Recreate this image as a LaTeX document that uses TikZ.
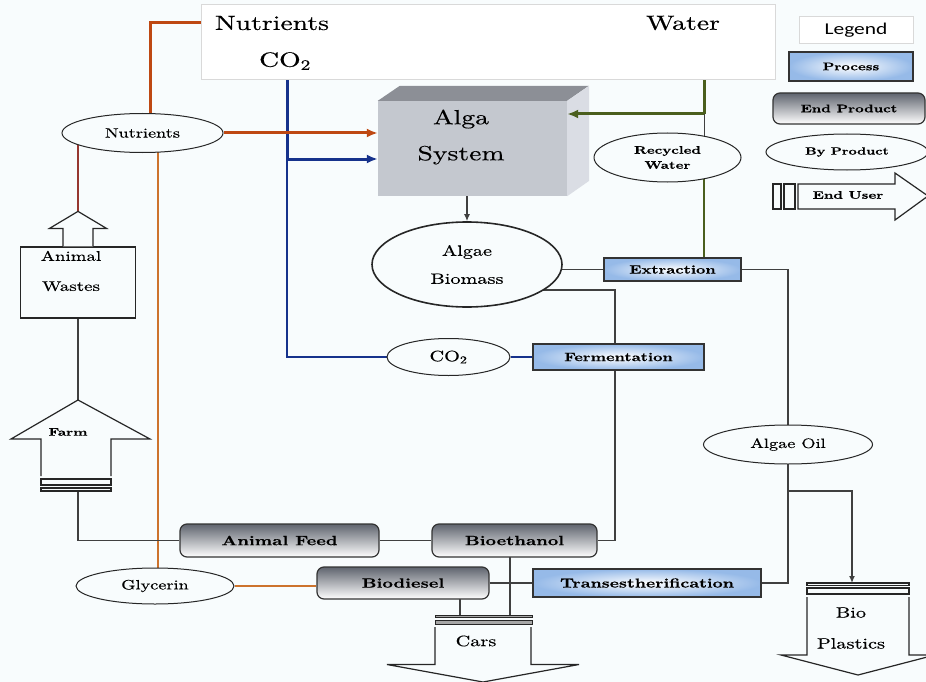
\documentclass[tikz,border=0pt]{standalone}
\usepackage{fontspec}
\setmainfont{lmroman10-regular.otf}[FakeStretch=1.35, FakeBold=0.4, BoldFont=lmroman10-bold.otf]
\newfontfamily\legendfont{Carlito}[FakeStretch=1.3]
\usetikzlibrary{arrows.meta, shapes.geometric}

\definecolor{bgcol}{RGB}{248,252,253}
\definecolor{nutcol}{RGB}{190,72,18}
\definecolor{glycol}{RGB}{205,115,45}
\definecolor{wastecol}{RGB}{150,55,48}
\definecolor{co2col}{RGB}{22,50,140}
\definecolor{watcol}{RGB}{75,95,30}
\definecolor{pblue}{RGB}{150,186,232}
\definecolor{prodgray}{RGB}{95,100,110}
\definecolor{facecol}{RGB}{196,200,207}
\definecolor{topcol}{RGB}{140,143,150}
\definecolor{sidecol}{RGB}{218,221,228}

\pgfdeclarelayer{back}
\pgfdeclarelayer{wires}
\pgfsetlayers{back,wires,main}

\begin{document}
\begin{tikzpicture}[x=1pt, y=-1pt,
    bigtxt/.style={inner sep=3pt, font=\fontsize{20.5}{24}\selectfont},
    midtxt/.style={inner sep=2pt, font=\fontsize{15}{18}\selectfont},
    smalltxt/.style={inner sep=2pt, font=\bfseries\fontsize{11}{13}\selectfont},
    proc/.style={rectangle, draw=black!80, line width=1.2pt, inner color=white, outer color=pblue,
      inner sep=0pt, font=\bfseries\fontsize{12}{14}\selectfont},
    prod/.style={rectangle, rounded corners=7pt, draw=black!80, line width=1.2pt,
      top color=prodgray, bottom color=white, inner sep=0pt, font=\bfseries\fontsize{13.5}{16}\selectfont},
    byprod/.style={ellipse, draw=black!85, line width=1pt, fill=bgcol, inner sep=0pt,
      font=\fontsize{13.5}{16}\selectfont},
    outl/.style={draw=black!85, line width=1.2pt, fill=bgcol},
    strip/.style={draw=black!85, line width=1pt, fill=black!35},
    wire/.style={draw=black!75, line width=1.3pt},
    nutline/.style={draw=nutcol, line width=3pt},
    co2line/.style={draw=co2col, line width=3pt},
    co2thin/.style={draw=co2col, line width=1.6pt},
    watline/.style={draw=watcol, line width=3pt},
    glyline/.style={draw=glycol, line width=2.2pt},
    wasteline/.style={draw=wastecol, line width=1.4pt},
    bigtip/.style={arrows={-Latex[length=11pt, width=9pt]}},
    smalltip/.style={arrows={-Latex[length=7pt, width=6pt]}}]

  \useasboundingbox (0,0) rectangle (926,682);
  \begin{pgfonlayer}{back}
    \fill[bgcol] (0,0) rectangle (926,682);
  \end{pgfonlayer}

  % Inputs on top.
  \node[draw=black!15, fill=white, line width=1pt, minimum width=574, minimum height=75] (src) at (488,42.5) {};
  \node[bigtxt] (nutTop) at (272,23) {Nutrients};
  \node[bigtxt] (co2t) at (285,61) {CO\textsubscript{2}};
  \node[bigtxt] (wat) at (683,23) {Water};

  % Legend.
  \node[draw=black!15, fill=white, line width=1pt, minimum width=114, minimum height=27,
    font=\legendfont\fontsize{16.5}{19}\selectfont] (leg) at (856,30.5) {Legend};
  \node[proc, minimum width=124, minimum height=29, font=\bfseries\fontsize{11}{13}\selectfont] (lproc) at (851,66.5) {Process};
  \node[prod, minimum width=152, minimum height=31, font=\bfseries\fontsize{11}{13}\selectfont] (lprod) at (849,108.5) {End Product};
  \node[byprod, minimum width=162, minimum height=36, font=\bfseries\fontsize{10.5}{12}\selectfont] (lby) at (847,152) {By Product};
  \draw[outl] (773,184) rectangle (781,209);
  \draw[outl] (784,184) rectangle (795,209);
  \draw[outl] (798,184) -- (895,184) -- (895,173) -- (928,196) -- (895,220) -- (895,209) -- (798,209) -- cycle;
  \node[smalltxt] (luser) at (848,195) {End User};

  % Alga system box.
  \node[fill=facecol, minimum width=189, minimum height=95] (alga) at (472.5,148.5) {};
  \fill[topcol] (alga.north west) -- ++(22,-15) -- ++(189,0) -- (alga.north east) -- cycle;
  \fill[sidecol] (alga.north east) -- ++(22,-15) -- ++(0,95) -- (alga.south east) -- cycle;
  \node[bigtxt, align=center] (algatxt) at (461,137) {Alga\\[12pt]System};

  % By products.
  \node[byprod, minimum width=190, minimum height=85, line width=1.6pt, align=center,
    font=\fontsize{15}{18}\selectfont] (bio) at (467,264.5) {Algae\\[10pt]Biomass};
  \node[byprod, minimum width=147, minimum height=49, align=center,
    font=\bfseries\fontsize{11}{13}\selectfont] (rw) at (667.5,157.5) {Recycled\\[2pt]Water};
  \node[byprod, minimum width=161, minimum height=39] (nutr) at (142.5,133) {Nutrients};
  \node[byprod, minimum width=158, minimum height=36] (gly) at (155,586) {Glycerin};
  \node[byprod, minimum width=169, minimum height=39] (oil) at (788,444.5) {Algae Oil};
  \node[byprod, minimum width=123, minimum height=37, font=\fontsize{15}{18}\selectfont] (co2b) at (448.5,357) {CO\textsubscript{2}};

  % Processes.
  \node[proc, minimum width=137, minimum height=23] (ext) at (672.5,269.5) {Extraction};
  \node[proc, minimum width=171, minimum height=26] (fer) at (618.5,357) {Fermentation};
  \node[proc, minimum width=228, minimum height=28, font=\bfseries\fontsize{13}{15}\selectfont] (tra) at (647,583) {Transestherification};

  % End products.
  \node[prod, minimum width=199, minimum height=33] (af) at (279.5,540.5) {Animal Feed};
  \node[prod, minimum width=165, minimum height=33] (be) at (514.5,540.5) {Bioethanol};
  \node[prod, minimum width=172, minimum height=32] (bd) at (403,583) {Biodiesel};

  % Animal wastes.
  \node[outl, minimum width=115, minimum height=71] (aw) at (78,282.5) {};
  \draw[outl] (aw.north) ++(-15,0) -- ++(0,-18) -- ++(-13.5,0) -- ++(28.5,-17) -- ++(28.5,17) -- ++(-13.5,0) -- ++(0,18);
  \path (aw.north) ++(0,-35) coordinate (awtip);
  \node[midtxt, align=center, font=\fontsize{14}{17}\selectfont] (awtxt) at (71,271) {Animal\\[13pt]Wastes};

  % Farm.
  \draw[outl] (41,476) -- (41,439) -- (11,439) -- (78,400) -- (150,439) -- (111,439) -- (111,476);
  \draw[outl] (41,479) rectangle (111,485);
  \draw[outl] (41,488) rectangle (111,491);
  \coordinate (farmtip) at (78,400);
  \coordinate (farmbot) at (78,491);
  \node[smalltxt] (farm) at (68,432) {Farm};

  % Cars.
  \draw[strip] (435,615) rectangle (532,617.5);
  \draw[strip] (435,620) rectangle (532,624);
  \draw[outl] (435,627) -- (435,664.5) -- (387,664.5) -- (483,682) -- (579,664.5) -- (531,664.5) -- (531,627);
  \node[midtxt] (cars) at (476,641) {Cars};
  \coordinate (carsA) at (460,615);
  \coordinate (carsB) at (510,615);

  % Bio plastics.
  \draw[outl] (807,583) rectangle (909,585.5);
  \draw[outl] (807,588) rectangle (909,594);
  \draw[outl] (807,597) -- (807,655) -- (781,655) -- (858,675) -- (935,655) -- (909,655) -- (909,597);
  \node[midtxt, align=center] (bpl) at (851,628) {Bio\\[13pt]Plastics};
  \coordinate (bptop) at (852,583);

  % Junctions.
  \coordinate (co2j) at (287,159);
  \coordinate (watj) at (704,114);
  \coordinate (ferj) at (615,290);
  \coordinate (oilj) at (788,491);

  \begin{pgfonlayer}{wires}
    % Nutrients, CO2 and water lines.
    \draw[nutline] (nutTop.west) -| ([xshift=7.5pt]nutr.center);
    \draw[co2line] ([yshift=5pt]co2t.south -| co2j) -- (co2j);
    \draw[co2thin] (co2j) |- (co2b);
    \draw[co2thin] (co2b) -- (fer);
    \draw[watline] (wat.south -| watj) -- (watj);
    \draw[wire, line width=1pt] (watj) -- (watj |- rw.center);
    \draw[watline, line width=2pt] (watj |- rw.center) -- (watj |- ext.center);
    \draw[wasteline] (awtip) -- (awtip |- nutr.center);
    \draw[glyline] ([xshift=3pt]gly.center) -- ([xshift=3pt]gly.center |- nutr.center);
    \draw[glyline] (gly) -- (gly -| bd.west);

    % Black connectors.
    \draw[wire] (ext.west) -- (ext.west -| bio.center);
    \draw[wire] (ext.east) -| (oil.center);
    \draw[wire] (ferj -| bio.center) -- (ferj) |- (be.east);
    \draw[wire] (aw.south) -- (farmtip);
    \draw[wire] (farmbot) |- (af.west);
    \draw[wire] (af) -- (be);
    \draw[wire] (bd) -- (tra);
    \draw[wire] (bd.center -| carsA) -- (carsA);
    \draw[wire] (be.center -| carsB) -- (carsB);
    \draw[wire] (tra.east) -| (oil.center);
  \end{pgfonlayer}

  % Arrows into the system.
  \draw[nutline, bigtip] (nutr.east) -- (alga.west |- nutr.east);
  \draw[co2line, bigtip] (co2j) -- (co2j -| alga.west);
  \draw[watline, bigtip] (watj) -- (watj -| alga.east);
  \draw[wire, smalltip] (bio.north |- alga.south) -- (bio.north);
  \draw[wire, smalltip] (oilj) -| (bptop);
\end{tikzpicture}
\end{document}
